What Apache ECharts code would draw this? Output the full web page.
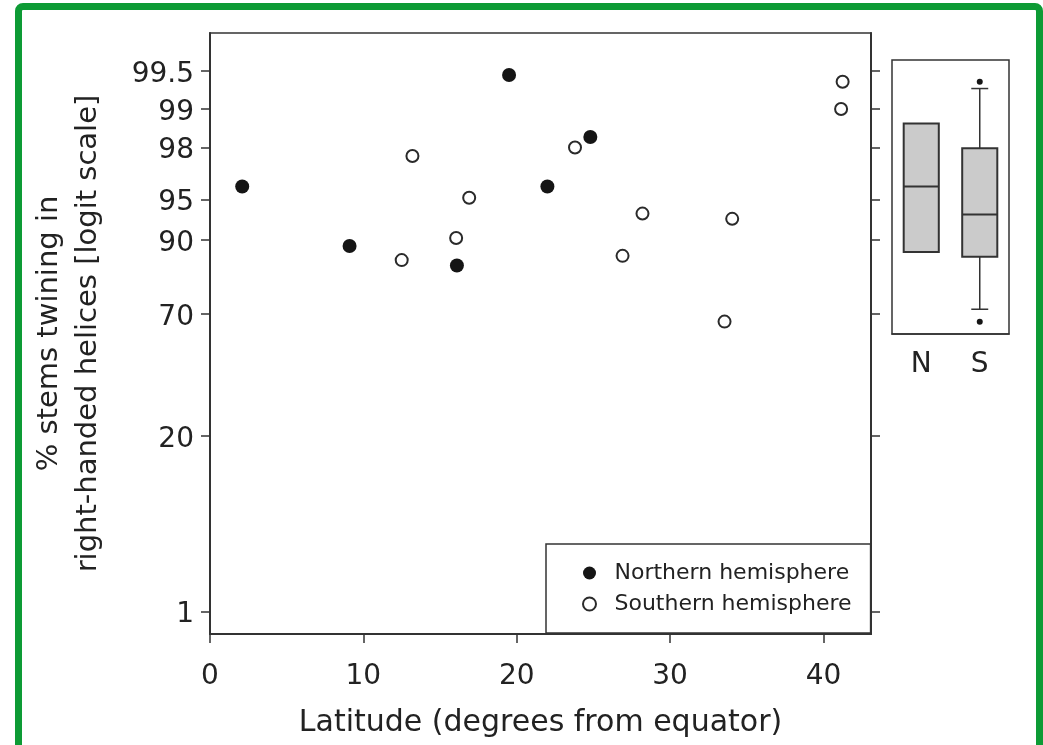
<!DOCTYPE html>
<html>
<head>
<meta charset="utf-8">
<script src="https://cdn.jsdelivr.net/npm/echarts@6/dist/echarts.min.js"></script>
<style>
  html, body { margin: 0; padding: 0; background: #fff; }
  #frame {
    position: absolute; left: 15px; top: 3px; width: 1028px; height: 800px;
    box-sizing: border-box; border: 7px solid #0d9b35; border-radius: 8px;
  }
  #chart { position: absolute; left: 0; top: 0; width: 1043px; height: 745px; }
</style>
</head>
<body>
<div id="frame"></div>
<div id="chart"></div>
<script>
// y tick labels (percent, drawn on a logit scale)
const tickLabels = ["1", "20", "70", "90", "95", "98", "99", "99.5"];
const tickPercents = [1, 20, 70, 90, 95, 98, 99, 99.5];

// scatter points: latitude vs % right-handed stems
const northLat = [2.1, 9.1, 16.1, 19.5, 22.0, 24.8];
const northPct = [96.0, 89.0, 85.0, 99.46, 96.0, 98.34];
const southLat = [12.5, 13.2, 16.05, 16.9, 23.8, 26.9, 28.2, 33.55, 34.05, 41.25, 41.15];
const southPct = [86.2, 97.67, 90.35, 95.13, 98.0, 87.1, 93.6, 67.0, 93.0, 99.39, 99.0];

// inset boxplot summaries (percent)
const boxCats = ["N", "S"];
const boxLow = [87.9, 71.8];
const boxQ1 = [87.9, 86.9];
const boxMedian = [96.0, 93.5];
const boxQ3 = [98.7, 97.97];
const boxHigh = [98.7, 99.31];
const outlierCat = ["S", "S"];
const outlierPct = [99.39, 67.0];

const logit = (p) => Math.log(p / (100 - p));
const tickValues = tickPercents.map(logit);
const labelFor = (v) => {
  const i = tickValues.findIndex((t) => Math.abs(t - v) < 1e-6);
  return i < 0 ? "" : "{t|" + tickLabels[i] + "}";
};

const font = "DejaVu Sans";
const ink = "#333";
const text = "#222";
const insetMin = 0.482, insetMax = 5.491;

const chart = echarts.init(document.getElementById("chart"));

const option = {
  animation: false,
  textStyle: { fontFamily: font },
  grid: [
    { left: 210, top: 33, width: 661, height: 601, show: true, borderColor: ink, borderWidth: 1.5 },
    { left: 892, top: 60, width: 117, height: 274, show: true, borderColor: ink, borderWidth: 1.5 },
  ],
  legend: {
    orient: "vertical",
    left: 546,
    top: 544,
    padding: [18, 19, 18, 36],
    itemWidth: 40,
    itemHeight: 13,
    itemGap: 9,
    symbolKeepAspect: true,
    borderColor: ink,
    borderWidth: 1.5,
    backgroundColor: "#fff",
    textStyle: { fontFamily: font, fontSize: 22, color: text },
    data: ["Northern hemisphere", "Southern hemisphere"],
  },
  xAxis: [
    {
      gridIndex: 0,
      type: "value",
      min: 0,
      max: 43.1,
      interval: 10,
      axisLine: { onZero: false, lineStyle: { color: ink, width: 2 } },
      axisTick: { length: 9, lineStyle: { color: ink, width: 1.5 } },
      axisLabel: { fontSize: 28, color: text, margin: 29 },
      splitLine: { show: false },
      name: "Latitude (degrees from equator)",
      nameLocation: "middle",
      nameGap: 74,
      nameTextStyle: { fontSize: 30, color: text },
    },
    {
      gridIndex: 1,
      type: "category",
      data: boxCats,
      axisLine: { lineStyle: { color: ink, width: 1.5 } },
      axisTick: { alignWithLabel: true, length: 4, lineStyle: { color: ink, width: 1.5 } },
      axisLabel: { fontSize: 28, color: text, margin: 17 },
    },
  ],
  yAxis: [
    {
      gridIndex: 0,
      type: "value",
      min: -5.003,
      max: 5.984,
      axisLine: { onZero: false, lineStyle: { color: ink, width: 2 } },
      axisTick: { customValues: tickValues, length: 9, lineStyle: { color: ink, width: 1.5 } },
      axisLabel: {
        customValues: tickValues,
        formatter: labelFor,
        margin: 16,
        rich: {
          t: { fontFamily: font, fontSize: 28, color: text, padding: [7, 0, 0, 0] },
        },
      },
      splitLine: { show: false },
      name: "% stems twining in\nright-handed helices [logit scale]",
      nameLocation: "middle",
      nameGap: 102,
      nameTextStyle: { fontSize: 29, lineHeight: 39, color: text },
    },
    {
      gridIndex: 0,
      type: "value",
      position: "right",
      min: -5.003,
      max: 5.984,
      axisLine: { show: true, onZero: false, lineStyle: { color: ink, width: 2 } },
      axisTick: { customValues: tickValues, length: 9, lineStyle: { color: ink, width: 1.5 } },
      axisLabel: { show: false },
      splitLine: { show: false },
    },
    {
      gridIndex: 1,
      type: "value",
      min: insetMin,
      max: insetMax,
      axisLine: { onZero: false, lineStyle: { color: ink, width: 1.5 } },
      axisTick: {
        customValues: tickValues.filter((v) => v >= insetMin && v <= insetMax),
        length: 4,
        lineStyle: { color: ink, width: 1.5 },
      },
      axisLabel: { show: false },
      splitLine: { show: false },
    },
  ],
  series: [
    {
      name: "Northern hemisphere",
      type: "scatter",
      xAxisIndex: 0,
      yAxisIndex: 0,
      symbol: "circle",
      symbolSize: 14,
      itemStyle: { color: "#151515", opacity: 1 },
      data: northLat.map((x, i) => [x, logit(northPct[i])]),
    },
    {
      name: "Southern hemisphere",
      type: "scatter",
      xAxisIndex: 0,
      yAxisIndex: 0,
      symbol: "circle",
      symbolSize: 12,
      itemStyle: { color: "#fff", borderColor: "#2a2a2a", borderWidth: 2, opacity: 1 },
      data: southLat.map((x, i) => [x, logit(southPct[i])]),
    },
    {
      type: "custom",
      xAxisIndex: 1,
      yAxisIndex: 2,
      encode: { x: 0, y: [1, 2, 3, 4, 5] },
      data: boxCats.map((c, i) => [
        i, logit(boxLow[i]), logit(boxQ1[i]), logit(boxMedian[i]), logit(boxQ3[i]), logit(boxHigh[i]),
      ]),
      renderItem: (params, api) => {
        const cat = api.value(0);
        const lo = api.coord([cat, api.value(1)]);
        const q1 = api.coord([cat, api.value(2)]);
        const md = api.coord([cat, api.value(3)]);
        const q3 = api.coord([cat, api.value(4)]);
        const hi = api.coord([cat, api.value(5)]);
        const band = api.size([1, 0])[0];
        const half = band * 0.3;
        const cap = band * 0.145;
        const x = q1[0];
        const line = { stroke: ink, lineWidth: 1.5 };
        const children = [];
        if (q3[1] - hi[1] > 0.5) {
          children.push({ type: "line", shape: { x1: x, y1: hi[1], x2: x, y2: q3[1] }, style: line });
          children.push({ type: "line", shape: { x1: x - cap, y1: hi[1], x2: x + cap, y2: hi[1] }, style: line });
        }
        if (lo[1] - q1[1] > 0.5) {
          children.push({ type: "line", shape: { x1: x, y1: q1[1], x2: x, y2: lo[1] }, style: line });
          children.push({ type: "line", shape: { x1: x - cap, y1: lo[1], x2: x + cap, y2: lo[1] }, style: line });
        }
        children.push({
          type: "rect",
          shape: { x: x - half, y: q3[1], width: half * 2, height: q1[1] - q3[1] },
          style: { fill: "#cbcbcb", stroke: ink, lineWidth: 2 },
        });
        children.push({
          type: "line",
          shape: { x1: x - half, y1: md[1], x2: x + half, y2: md[1] },
          style: { stroke: ink, lineWidth: 2 },
        });
        return { type: "group", children };
      },
    },
    {
      type: "scatter",
      xAxisIndex: 1,
      yAxisIndex: 2,
      symbol: "circle",
      symbolSize: 6,
      itemStyle: { color: "#151515", opacity: 1 },
      data: outlierCat.map((c, i) => [c, logit(outlierPct[i])]),
    },
  ],
};

chart.setOption(option);
</script>
</body>
</html>
